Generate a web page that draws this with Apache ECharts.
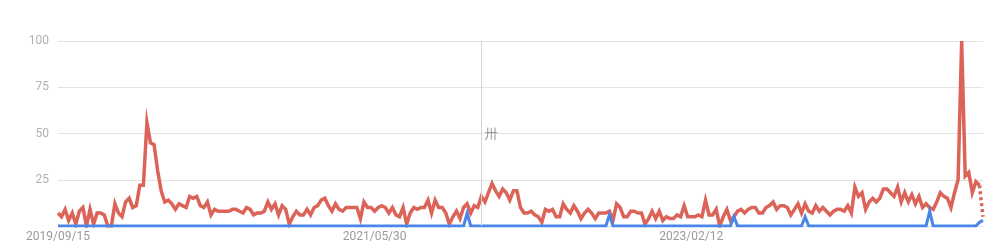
<!DOCTYPE html>
<html>
<head>
<meta charset="utf-8">
<script src="https://cdn.jsdelivr.net/npm/echarts@6/dist/echarts.min.js"></script>
<style>
html,body{margin:0;padding:0;background:#fff;}
#chart{width:997px;height:250px;}
</style>
</head>
<body>
<div id="chart"></div>
<script>
// Weekly categories starting 2019/09/15 (261 weeks)
var startDate = '2019-09-15';
var weekCount = 261;
var tickLabels = ['2019/09/15', '2021/05/30', '2023/02/12'];
var yTicks = [25, 50, 75, 100];

// Red series (interest over time)
var redValues = [
  7,5,9,3,7,1,8,10,0,9,
  1,7,7,6,0,0,12,7,5,13,
  15,10,11,22,22,56,45,44,30,19,
  13,14,12,9,12,11,10,16,15,16,
  11,10,13,6,9,8,8,8,8,9,
  9,8,7,10,9,6,7,7,8,13,
  9,12,6,11,9,1,5,8,6,6,
  9,6,10,11,14,15,11,8,12,9,
  8,10,10,10,10,4,13,10,10,8,
  10,11,10,7,10,6,5,10,1,7,
  10,9,10,10,14,7,14,10,10,7,
  1,5,8,4,10,12,7,11,10,16,
  13,18,23,19,16,20,18,14,19,19,
  10,7,7,8,6,5,2,9,8,9,
  5,5,12,9,7,11,8,4,7,9,
  7,4,7,7,7,8,3,12,10,5,
  5,8,8,7,7,1,4,8,4,8,
  3,5,4,
  4,6,5,11,5,5,5,6,5,
  14,6,6,9,0,5,9,3,5,8,
  9,7,9,10,10,7,7,10,11,
  13,9,11,11,10,6,9,12,7,12,
  8,7,11,8,10,8,6,8,9,9,
  8,11,7,21,16,18,9,13,15,13,
  15,20,20,18,16,21,13,18,13,17,
  12,16,10,12,10,9,13,18,16,
  15,10,18,25,100,27,29,18,24,22,
  5
];

// Blue series: zero except a few small bumps
var blueSpikeWeeks = [115, 155, 190, 210, 245, 259, 260];
var blueSpikeValues = [7, 6, 5, 5, 8, 2, 3];

var crosshairWeek = 119;
var crosshairText = '卅';

// ---- build ----
var categories = [];
(function(){
  var d = new Date(startDate + 'T00:00:00Z');
  for (var i = 0; i < weekCount; i++) {
    var t = new Date(d.getTime() + i * 7 * 86400000);
    var mm = ('0' + (t.getUTCMonth() + 1)).slice(-2);
    var dd = ('0' + t.getUTCDate()).slice(-2);
    categories.push(t.getUTCFullYear() + '/' + mm + '/' + dd);
  }
})();
var labelStep = categories.indexOf(tickLabels[1]) - categories.indexOf(tickLabels[0]);

var blueValues = categories.map(function(){ return 0; });
blueSpikeWeeks.forEach(function(w, k){ blueValues[w] = blueSpikeValues[k]; });

var lastIdx = redValues.length - 1;
var redSolid = redValues.map(function(v, i){ return i < lastIdx ? v : null; });
var redDotted = redValues.map(function(v, i){ return i >= lastIdx - 1 ? v : null; });

var RED = '#dc6358';
var BLUE = '#4a86e8';

var chart = echarts.init(document.getElementById('chart'), null, {renderer: 'canvas'});
chart.setOption({
  animation: false,
  backgroundColor: '#fff',
  grid: {left: 58, right: 14, top: 41, bottom: 24, containLabel: false},
  xAxis: {
    type: 'category',
    data: categories,
    boundaryGap: false,
    axisLine: {show: false},
    axisTick: {show: false},
    splitLine: {show: false},
    axisLabel: {
      interval: labelStep - 1,
      formatter: function(v){ return tickLabels.indexOf(v) >= 0 ? v : ''; },
      color: '#9a9a9a',
      fontFamily: 'Roboto',
      fontSize: 12,
      margin: 5
    }
  },
  yAxis: {
    type: 'value',
    min: 0,
    max: 100,
    interval: 25,
    axisLine: {show: false},
    axisTick: {show: false},
    splitLine: {lineStyle: {color: '#e2e2e2', width: 1}},
    axisLabel: {
      color: '#b0b0b0',
      fontFamily: 'Roboto',
      fontSize: 12,
      margin: 9,
      formatter: function(v){ return yTicks.indexOf(v) >= 0 ? String(v) : ''; }
    }
  },
  series: [
    {
      name: 'red',
      type: 'line',
      data: redSolid,
      symbol: 'none',
      connectNulls: false,
      lineStyle: {color: RED, width: 3.5, join: 'miter'},
      itemStyle: {color: RED},
      z: 3,
      markLine: {
        silent: true,
        symbol: 'none',
        label: {show: false},
        lineStyle: {color: '#d4d4d4', type: 'solid', width: 1},
        data: [{xAxis: categories[crosshairWeek]}]
      },
      markPoint: {
        silent: true,
        symbol: 'circle',
        symbolSize: 1,
        itemStyle: {color: 'rgba(0,0,0,0)'},
        label: {
          show: true,
          position: 'right',
          distance: 3,
          formatter: crosshairText,
          color: '#9a9a9a',
          fontSize: 13,
          fontFamily: 'Noto Sans CJK SC'
        },
        data: [{coord: [categories[crosshairWeek], 50]}]
      }
    },
    {
      name: 'redDotted',
      type: 'line',
      data: redDotted,
      symbol: 'none',
      lineStyle: {color: RED, width: 3.5, type: [3, 3]},
      itemStyle: {color: RED},
      z: 3
    },
    {
      name: 'blue',
      type: 'line',
      data: blueValues,
      symbol: 'none',
      lineStyle: {color: BLUE, width: 3, join: 'miter'},
      itemStyle: {color: BLUE},
      z: 4
    }
  ]
});
</script>
</body>
</html>
